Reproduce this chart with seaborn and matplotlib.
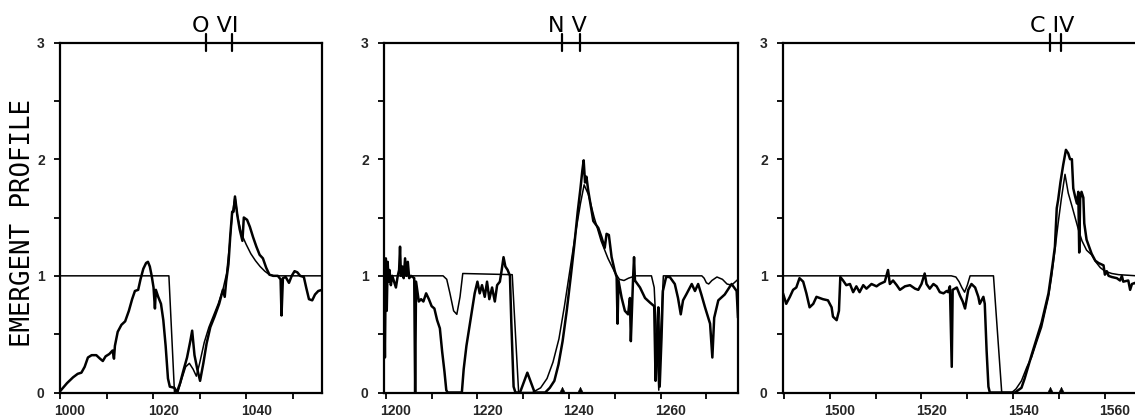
import matplotlib
matplotlib.use("Agg")
import matplotlib.pyplot as plt
import matplotlib.transforms as mtransforms
from matplotlib.ticker import MultipleLocator
import seaborn as sns

# ---------------- data ----------------
# O VI panel
ovi_obs_x = [1000.0, 1001.5, 1002.8, 1003.8, 1004.6, 1005.3, 1006.0, 1006.8, 1007.8, 1008.6, 1009.2, 1009.8,
             1010.6, 1011.3, 1011.6, 1011.8, 1012.4, 1013.2, 1014.0, 1014.8, 1015.5, 1016.1, 1016.8, 1017.3,
             1017.9, 1018.5, 1018.9, 1019.3, 1019.7, 1020.1, 1020.4, 1020.6, 1021.1, 1021.7, 1022.2, 1022.7,
             1023.2, 1023.6, 1024.6, 1025.1, 1025.8, 1026.6, 1027.3, 1028.0, 1028.4, 1028.9, 1029.5, 1030.1,
             1030.8, 1031.5, 1032.3, 1033.2, 1034.2, 1035.0, 1035.4, 1035.7, 1036.2, 1036.6, 1037.0, 1037.3,
             1037.6, 1038.1, 1038.6, 1039.2, 1039.5, 1040.2, 1040.8, 1041.5, 1042.2, 1042.9, 1043.6, 1044.3,
             1045.0, 1045.8, 1046.8, 1047.4, 1047.6, 1047.9, 1048.5, 1049.2, 1049.8, 1050.4, 1051.0, 1051.6,
             1052.4, 1052.9, 1053.5, 1054.2, 1054.8, 1055.5, 1056.3]
ovi_obs_y = [0.01, 0.08, 0.13, 0.16, 0.17, 0.22, 0.30, 0.32, 0.32, 0.29, 0.27, 0.31,
             0.33, 0.36, 0.29, 0.40, 0.52, 0.58, 0.61, 0.70, 0.80, 0.87, 0.88, 0.97,
             1.06, 1.11, 1.12, 1.08, 1.00, 0.90, 0.72, 0.88, 0.82, 0.76, 0.62, 0.40,
             0.12, 0.05, 0.04, 0.00, 0.08, 0.20, 0.30, 0.44, 0.53, 0.32, 0.20, 0.10,
             0.25, 0.42, 0.56, 0.65, 0.76, 0.88, 0.82, 0.95, 1.10, 1.35, 1.55, 1.55,
             1.68, 1.52, 1.40, 1.30, 1.50, 1.48, 1.42, 1.33, 1.25, 1.18, 1.15, 1.07,
             1.01, 1.00, 1.00, 0.97, 0.66, 0.98, 0.99, 0.94, 1.00, 1.04, 1.03, 1.00,
             0.99, 0.90, 0.80, 0.79, 0.84, 0.87, 0.88]
ovi_mod_x = [1000.0, 1023.4, 1024.6, 1025.3, 1026.2, 1027.0, 1027.8, 1028.6, 1029.3, 1030.0, 1031.0, 1032.0,
             1033.0, 1034.0, 1035.0, 1035.8, 1036.4, 1037.0, 1037.6, 1038.2, 1039.0, 1040.0, 1041.0, 1042.0,
             1043.0, 1044.0, 1045.0, 1046.0, 1056.3]
ovi_mod_y = [1.00, 1.00, 0.00, 0.00, 0.12, 0.22, 0.25, 0.20, 0.14, 0.25, 0.43, 0.56,
             0.66, 0.76, 0.88, 1.02, 1.25, 1.52, 1.68, 1.50, 1.36, 1.27, 1.19, 1.13,
             1.08, 1.04, 1.01, 1.00, 1.00]
ovi_lines = [1031.3, 1037.0]

# N V panel
nv_obs_x = [1199.6, 1199.8, 1200.0, 1200.2, 1200.4, 1200.6, 1200.8, 1201.1, 1201.4, 1201.8, 1202.2, 1202.6,
            1202.9, 1203.1, 1203.3, 1203.6, 1203.9, 1204.2, 1204.5, 1204.8, 1205.1, 1205.5, 1206.2, 1206.4,
            1206.6, 1207.2, 1207.7, 1208.2, 1208.8, 1209.4, 1210.0, 1210.6, 1211.2, 1211.8, 1212.3, 1212.8,
            1213.2, 1213.5, 1216.6, 1217.0, 1217.6, 1218.2, 1218.8, 1219.4, 1220.0, 1220.5, 1221.0, 1221.6,
            1222.1, 1222.6, 1223.2, 1223.8, 1224.3, 1224.9, 1225.3, 1225.7, 1226.1, 1226.6, 1227.1, 1227.4,
            1227.9, 1228.3, 1229.3, 1230.9, 1232.5, 1234.8, 1235.8, 1236.8, 1237.7, 1238.6, 1239.5, 1240.4,
            1241.2, 1241.9, 1242.5, 1242.9, 1243.2, 1243.5, 1243.8, 1244.2, 1245.3, 1246.4, 1247.1, 1247.8,
            1248.2, 1248.7, 1249.3, 1250.0, 1250.4, 1250.6, 1250.8, 1251.5, 1252.2, 1252.9, 1253.3, 1253.5,
            1254.0, 1254.2, 1254.4, 1255.5, 1256.6, 1257.7, 1258.6, 1258.9, 1259.2, 1259.5, 1259.8, 1260.2,
            1260.5, 1261.2, 1262.0, 1263.1, 1263.8, 1264.4, 1264.9, 1265.6, 1266.8, 1267.5, 1268.2, 1268.9,
            1269.7, 1270.4, 1270.8, 1271.3, 1271.7, 1272.6, 1274.0, 1275.5, 1276.6, 1276.9]
nv_obs_y = [0.95, 0.30, 1.15, 0.70, 1.12, 0.95, 1.05, 0.92, 1.00, 0.95, 0.90, 1.00,
            1.05, 1.25, 1.00, 1.08, 0.98, 1.15, 1.00, 1.12, 0.98, 1.00, 0.98, 0.00,
            0.95, 0.78, 0.80, 0.78, 0.85, 0.80, 0.74, 0.72, 0.62, 0.55, 0.35, 0.18,
            0.02, 0.00, 0.00, 0.20, 0.40, 0.55, 0.70, 0.85, 0.95, 0.85, 0.92, 0.82,
            0.95, 0.80, 0.90, 0.78, 0.92, 0.95, 1.05, 1.16, 1.08, 1.05, 1.00, 0.60,
            0.05, 0.00, 0.00, 0.17, 0.00, 0.00, 0.04, 0.10, 0.24, 0.44, 0.70, 1.00,
            1.28, 1.55, 1.75, 1.90, 1.99, 1.80, 1.85, 1.73, 1.47, 1.41, 1.33, 1.24,
            1.36, 1.35, 1.16, 1.04, 0.99, 0.59, 0.96, 0.81, 0.70, 0.67, 0.81, 0.44,
            0.99, 1.16, 0.96, 0.90, 0.81, 0.77, 0.74, 0.10, 0.45, 0.73, 0.05, 0.47,
            0.87, 0.99, 0.99, 0.93, 0.81, 0.67, 0.79, 0.84, 0.93, 0.87, 0.93, 0.84,
            0.73, 0.64, 0.59, 0.30, 0.64, 0.79, 0.84, 0.93, 0.87, 0.64]
nv_mod_x = [1199.6, 1212.5, 1213.3, 1214.0, 1214.8, 1215.5, 1216.2, 1216.8, 1227.6, 1229.0, 1229.6, 1232.0,
            1233.8, 1235.2, 1236.5, 1237.8, 1239.0, 1240.2, 1241.4, 1242.5, 1243.3, 1244.2, 1245.5, 1247.0,
            1248.5, 1250.0, 1251.0, 1252.0, 1253.0, 1254.5, 1258.0, 1258.6, 1259.2, 1259.6, 1260.0, 1260.6,
            1269.0, 1269.5, 1270.0, 1270.5, 1271.2, 1272.3, 1273.5, 1274.5, 1275.5, 1276.9]
nv_mod_y = [1.00, 1.00, 0.97, 0.85, 0.70, 0.67, 0.82, 1.02, 1.01, 0.00, 0.00, 0.00,
            0.04, 0.12, 0.26, 0.46, 0.74, 1.05, 1.36, 1.62, 1.78, 1.70, 1.50, 1.30,
            1.15, 1.03, 0.97, 0.96, 0.98, 1.00, 1.00, 0.90, 0.40, 0.02, 0.50, 1.00,
            1.00, 0.98, 0.94, 0.93, 0.96, 0.99, 0.97, 0.93, 0.92, 0.97]
nv_lines = [1238.5, 1242.3]

# C IV panel
civ_obs_x = [1489.8, 1490.5, 1491.3, 1492.0, 1492.7, 1493.4, 1494.2, 1494.9, 1495.6, 1496.4, 1497.1, 1498.5,
             1499.6, 1500.4, 1500.7, 1501.5, 1502.0, 1502.3, 1502.9, 1503.6, 1504.4, 1505.1, 1505.8, 1506.5,
             1507.3, 1508.0, 1509.1, 1510.2, 1510.9, 1512.0, 1512.7, 1513.1, 1513.8, 1514.6, 1515.3, 1516.4,
             1517.5, 1518.6, 1519.3, 1520.0, 1520.7, 1521.1, 1521.8, 1522.6, 1523.3, 1524.0, 1524.8, 1525.5,
             1525.8, 1526.2, 1526.6, 1526.8, 1527.7, 1528.4, 1529.0, 1529.5, 1530.2, 1530.9, 1531.7, 1532.4,
             1532.7, 1533.5, 1533.8, 1534.2, 1534.6, 1534.9, 1540.4, 1541.8, 1542.5, 1544.0, 1546.2, 1547.7,
             1548.6, 1549.1, 1549.5, 1549.8, 1550.3, 1550.9, 1551.5, 1552.0, 1552.4, 1552.8, 1553.1, 1553.5,
             1553.9, 1554.2, 1554.4, 1554.6, 1554.9, 1555.3, 1555.5, 1556.0, 1557.1, 1557.9, 1558.6, 1559.7,
             1560.0, 1560.4, 1560.8, 1561.5, 1562.6, 1563.3, 1563.7, 1564.0, 1565.1, 1565.5, 1565.9, 1566.6,
             1567.0]
civ_obs_y = [0.85, 0.76, 0.82, 0.88, 0.90, 0.98, 0.95, 0.85, 0.73, 0.76, 0.82, 0.80,
             0.79, 0.73, 0.65, 0.62, 0.70, 0.99, 0.96, 0.92, 0.93, 0.86, 0.91, 0.86,
             0.92, 0.89, 0.93, 0.91, 0.93, 0.95, 1.05, 0.93, 0.96, 0.92, 0.88, 0.91,
             0.92, 0.89, 0.88, 0.93, 1.02, 0.93, 0.89, 0.93, 0.91, 0.86, 0.85, 0.87,
             0.86, 0.91, 0.22, 0.88, 0.90, 0.83, 0.78, 0.72, 0.88, 0.93, 0.90, 0.82,
             0.76, 0.82, 0.76, 0.36, 0.05, 0.00, 0.00, 0.04, 0.12, 0.32, 0.60, 0.85,
             1.10, 1.25, 1.58, 1.65, 1.80, 1.95, 2.08, 2.05, 2.00, 2.00, 1.75, 1.68,
             1.62, 1.72, 1.20, 1.66, 1.72, 1.67, 1.45, 1.31, 1.19, 1.13, 1.11, 1.09,
             1.01, 1.04, 1.00, 0.99, 0.98, 0.96, 1.00, 0.95, 0.96, 0.88, 0.93, 0.94,
             0.92]
civ_mod_x = [1489.8, 1526.5, 1527.5, 1528.2, 1528.8, 1529.4, 1530.0, 1530.6, 1531.2, 1535.7, 1537.5, 1539.7,
             1540.6, 1541.8, 1543.0, 1544.0, 1545.0, 1546.2, 1547.0, 1547.7, 1548.4, 1549.1, 1549.8, 1550.5,
             1551.3, 1552.0, 1552.8, 1553.5, 1554.2, 1555.0, 1556.0, 1557.1, 1558.0, 1559.0, 1560.0, 1561.5,
             1563.0, 1567.0]
civ_mod_y = [1.00, 1.00, 0.99, 0.95, 0.90, 0.86, 0.92, 1.00, 1.00, 1.00, 0.00, 0.00,
             0.03, 0.10, 0.22, 0.30, 0.42, 0.56, 0.70, 0.82, 1.00, 1.22, 1.45, 1.66,
             1.87, 1.71, 1.60, 1.50, 1.40, 1.30, 1.22, 1.18, 1.12, 1.07, 1.04, 1.02,
             1.01, 1.00]
civ_lines = [1548.0, 1550.4]

ion_labels = ["O VI", "N V", "C IV"]
ylabel_text = "EMERGENT PROFILE"
y_ticks = [0, 1, 2, 3]

# ---------------- styling / layout ----------------
sns.set_theme(style="ticks")
plt.rcParams['font.family'] = ['DejaVu Sans']

tick_font = 'Liberation Sans'
tick_size = 10

W, H = 1135.0, 417.0
fig = plt.figure(figsize=(W / 100, H / 100), dpi=100)
fig.patch.set_facecolor('white')

panels = [
    dict(obs=(ovi_obs_x, ovi_obs_y), mod=(ovi_mod_x, ovi_mod_y), lines=ovi_lines,
         label=ion_labels[0], xlim=(1000.0, 1056.3), left=60.0, width=262.0, tri=False),
    dict(obs=(nv_obs_x, nv_obs_y), mod=(nv_mod_x, nv_mod_y), lines=nv_lines,
         label=ion_labels[1], xlim=(1199.6, 1276.9), left=384.0, width=354.0, tri=True),
    dict(obs=(civ_obs_x, civ_obs_y), mod=(civ_mod_x, civ_mod_y), lines=civ_lines,
         label=ion_labels[2], xlim=(1489.8, 1567.0), left=783.0, width=354.0, tri=True),
]

bottom_px = 392.5
height_px = 350.0
offset = mtransforms.ScaledTranslation(10 / 100, 0, fig.dpi_scale_trans)

for i, p in enumerate(panels):
    ax = fig.add_axes([p['left'] / W, (H - bottom_px) / H, p['width'] / W, height_px / H])
    ax.set_facecolor('white')
    sns.lineplot(x=p['mod'][0], y=p['mod'][1], sort=False, estimator=None, color='black',
                 linewidth=1.1, ax=ax, legend=False)
    sns.lineplot(x=p['obs'][0], y=p['obs'][1], sort=False, estimator=None, color='black',
                 linewidth=1.8, ax=ax, legend=False)
    if p['tri']:
        sns.scatterplot(x=p['lines'], y=[0.02] * len(p['lines']), marker='^', s=22,
                        color='black', edgecolor='black', ax=ax, legend=False, clip_on=False, zorder=5)
    # line markers on top axis
    for w in p['lines']:
        ax.plot([w, w], [2.93, 3.07], color='black', lw=1.6, clip_on=False)
    ax.text(sum(p['lines']) / len(p['lines']) - 0.8, 1.03, p['label'],
            transform=mtransforms.blended_transform_factory(ax.transData, ax.transAxes),
            ha='center', va='baseline', fontsize=16, color='black', family='DejaVu Sans')
    ax.set_xlim(*p['xlim'])
    ax.set_ylim(0, 3)
    ax.xaxis.set_major_locator(MultipleLocator(20))
    ax.xaxis.set_minor_locator(MultipleLocator(10))
    ax.set_yticks(y_ticks)
    ax.yaxis.set_minor_locator(MultipleLocator(0.5))
    ax.tick_params(which='both', direction='out', length=4, width=1.3, color='black',
                   top=False, right=False)
    ax.tick_params(axis='x', pad=4)
    ax.tick_params(axis='y', pad=7)
    for lab in ax.get_xticklabels() + ax.get_yticklabels():
        lab.set_fontfamily(tick_font)
        lab.set_fontsize(tick_size)
        lab.set_fontweight('bold')
    for lab in ax.get_xticklabels():
        lab.set_transform(lab.get_transform() + offset)
    for s in ax.spines.values():
        s.set_visible(True)
        s.set_linewidth(1.6)
        s.set_color('black')
    ax.set_xlabel('')
    ax.set_ylabel('')
    ax.grid(False)

fig.text(23 / W, 1 - 223 / H, ylabel_text, rotation=90, ha='center', va='center',
         fontsize=18.5, family='DejaVu Sans Mono', color='black')

fig.savefig('out.png', dpi=100, facecolor='white')
